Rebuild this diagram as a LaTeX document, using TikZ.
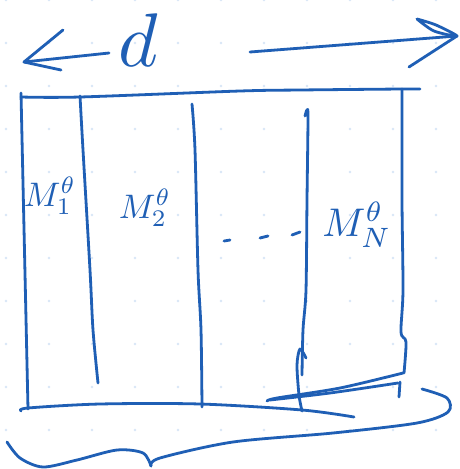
\documentclass[tikz,border=0pt]{standalone}
\usepackage{tikz}
\usetikzlibrary{arrows.meta,positioning}
\definecolor{inkblue}{HTML}{1F5FB5}
\definecolor{gridblue}{HTML}{D8E6F7}
\tikzset{
  ink/.style={draw=inkblue,line width=2.8pt,line cap=round,line join=round},
  gridpt/.style={fill=gridblue},
  lbl/.style={text=inkblue,inner sep=0pt,scale=#1},
  lbl/.default={3.4},
}

\begin{document}
\begin{tikzpicture}[x=1pt,y=-1pt]
  \useasboundingbox[fill=white] (0,0) rectangle (459,469);
  % paper dots
  \foreach \i in {0,...,10}
    \foreach \j in {0,...,10}
      \fill[gridpt] (6+43*\i,43*\j) circle (1.4);

  % width arrow
  \draw[ink] (109,53) -- (24,62);
  \draw[ink] (63,30) -- (24,62) -- (61,70);
  \node[lbl=7.6] (dlbl) at (138,40) {$d$};
  \draw[ink] (250,52) -- (457,36);
  \draw[ink] plot[smooth] coordinates {(417,19) (436,25) (457,36) (434,31) (417,19)};
  \draw[ink] (457,36) -- (409,67);

  % box
  \draw[ink] plot[smooth] coordinates {(21,97) (80,97) (240,91) (300,90) (402,89) (420,89)};
  \draw[ink] (21,93) -- (28,409);
  \draw[ink] plot[smooth] coordinates {(80,96) (83,150) (90,270) (93,330) (98,383)};
  \draw[ink] plot[smooth] coordinates {(192,104) (195,150) (198,270) (201,330) (202,407)};
  \draw[ink] plot[smooth] coordinates {(305,116) (307,110) (308,118) (307,200) (306,290) (303,330) (302,375)};
  \draw[ink] plot[smooth] coordinates {(306,358) (300,349) (297,365) (299,395) (302,411)};
  \draw[ink] plot[smooth] coordinates {(402,89) (402,200) (403,290) (401,332) (406,342) (404,373)};
  \draw[ink] (400,382) -- (399,397);
  \draw[ink] plot[smooth] coordinates {(21,411) (28,408) (100,404) (200,404) (302,410) (354,417)};

  % floor lines
  \draw[ink] plot[smooth] coordinates {(267,401) (277,398) (340,388) (403,373)};
  \draw[ink] plot[smooth] coordinates {(270,400) (330,393) (398,383)};

  % columns
  \node[lbl] (m1) at (50,196) {$M_1^\theta$};
  \node[lbl] (m2) at (145,208) {$M_2^\theta$};
  \draw[ink] (224,241) -- (230,240);
  \draw[ink] (260,238) -- (268,236);
  \draw[ink] (292,235) -- (300,232);
  \node[lbl=4] (mn) at (357,225) {$M_N^\theta$};

  % brace
  \draw[ink] plot[smooth] coordinates {(7,442) (20,458) (43,467) (77,460) (117,450) (143,453) (151,466)};
  \draw[ink] plot[smooth] coordinates {(151,466) (160,458) (233,442) (333,433) (417,423) (448,412) (447,398) (422,389)};
\end{tikzpicture}
\end{document}
